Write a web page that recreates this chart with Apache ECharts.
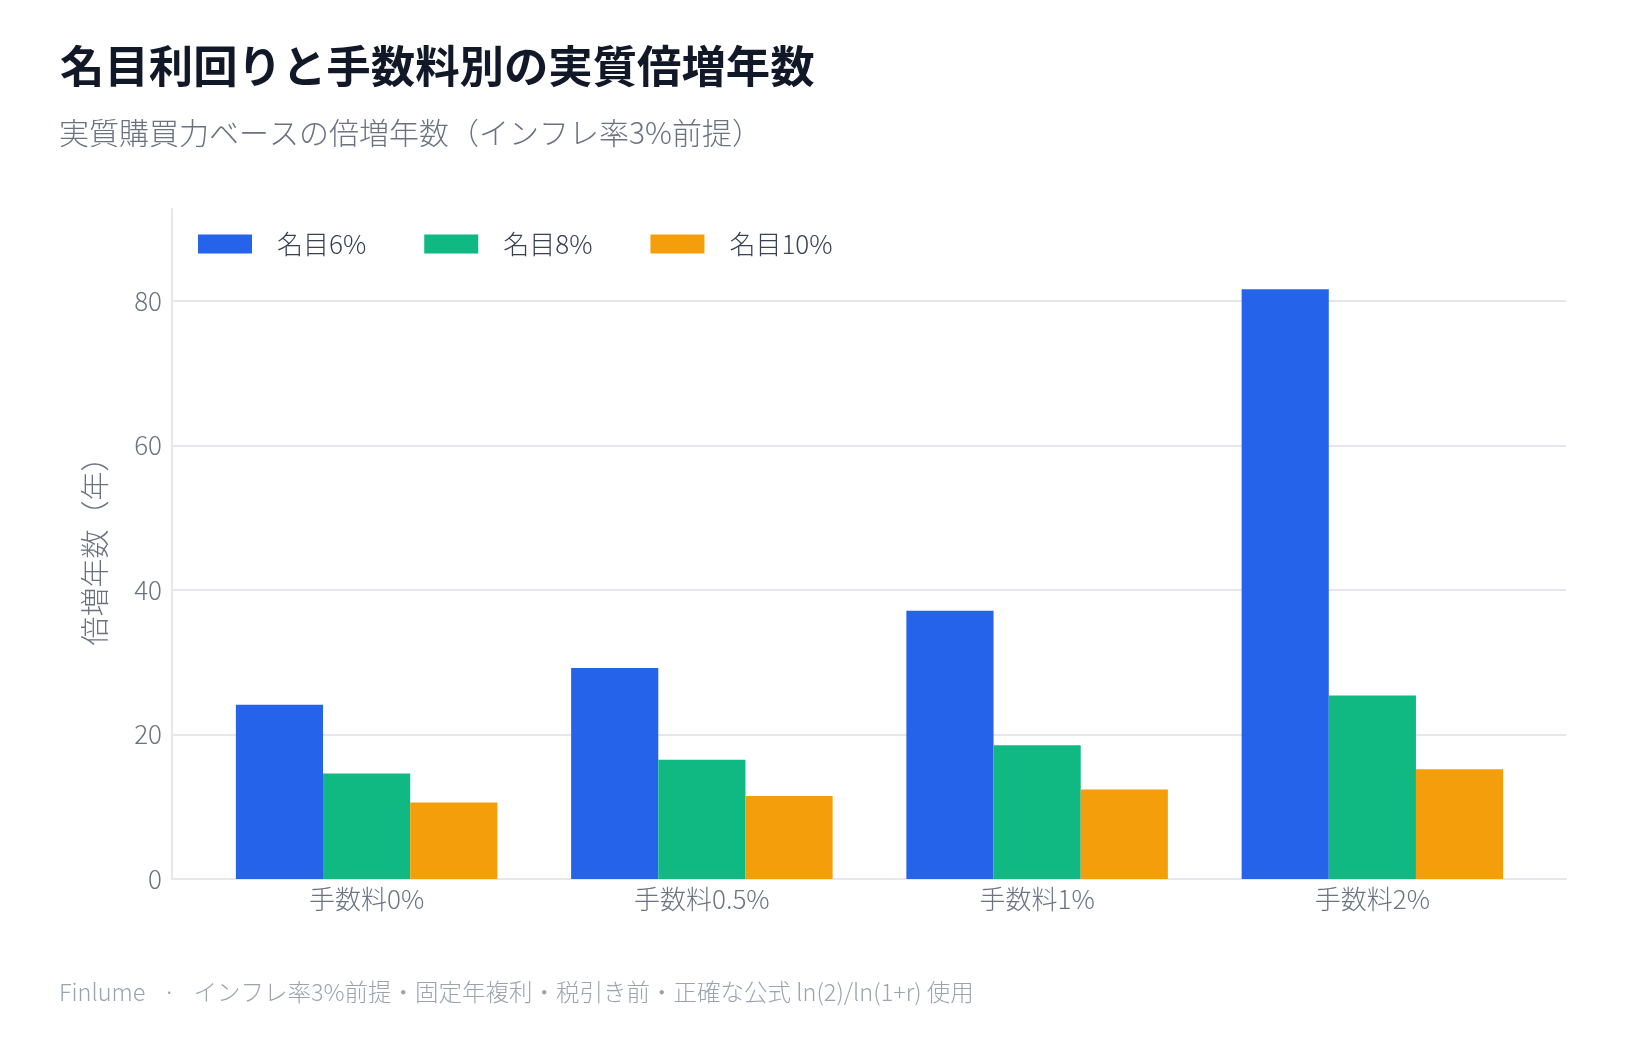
<!doctype html>
<html>
<head>
<meta charset="utf-8">
<title>名目利回りと手数料別の実質倍増年数</title>
<script src="https://cdn.jsdelivr.net/npm/echarts@6/dist/echarts.min.js"></script>
<style>
  html, body { margin: 0; padding: 0; background: #fff; }
  #main { width: 1639px; height: 1040px; }
</style>
</head>
<body>
<div id="main"></div>
<script>
// カテゴリ（手数料）
const categories = ['手数料0%', '手数料0.5%', '手数料1%', '手数料2%'];
// 系列名
const seriesNames = ['名目6%', '名目8%', '名目10%'];
// 実質倍増年数
const nominal6 = [24.1, 29.2, 37.1, 81.6];
const nominal8 = [14.6, 16.5, 18.5, 25.4];
const nominal10 = [10.6, 11.5, 12.4, 15.2];
// 目盛り
const yMin = 0;
const yMax = 92.7;
const yStep = 20;

const colors = ['#2563eb', '#10b981', '#f59e0b'];
const font = "'Noto Sans CJK JP', 'Noto Sans', sans-serif";
const gray = '#6b7280';

const chart = echarts.init(document.getElementById('main'), null, { renderer: 'canvas' });

// 棒は内側のグリッド（左右に余白あり）に描く
const mkSeries = (name, data, i) => ({
  name: name,
  type: 'bar',
  xAxisIndex: 1,
  yAxisIndex: 1,
  data: data,
  barGap: '0%',
  barCategoryGap: '22%',
  itemStyle: { color: colors[i] },
  emphasis: { disabled: true }
});

chart.setOption({
  animation: false,
  textStyle: { fontFamily: font },
  title: [
    {
      text: '名目利回りと手数料別の実質倍増年数',
      left: 55, top: 39,
      textStyle: { fontSize: 44.4, fontWeight: 'bold', color: '#111827', fontFamily: font }
    },
    {
      text: '実質購買力ベースの倍増年数（インフレ率3%前提）',
      left: 54, top: 113,
      textStyle: { fontSize: 30, fontWeight: 300, color: gray, fontFamily: font }
    },
    {
      text: 'Finlume\u2002\u2005·\u2002\u2005インフレ率3%前提・固定年複利・税引き前・正確な公式 ln(2)/ln(1+r) 使用',
      left: 54, top: 975,
      textStyle: { fontSize: 23.5, fontWeight: 300, color: '#9ca3af', fontFamily: font }
    }
  ],
  legend: {
    data: seriesNames,
    left: 193, top: 226,
    icon: 'rect',
    itemWidth: 54, itemHeight: 19,
    itemGap: 58,
    textStyle: { fontSize: 26, fontWeight: 300, color: '#374151', padding: [0, 0, 0, 20], fontFamily: font }
  },
  grid: [
    { left: 172, right: 73, top: 209, bottom: 161, containLabel: false },
    { left: 199, right: 99, top: 209, bottom: 161, containLabel: false }
  ],
  xAxis: [
    {
      type: 'category',
      gridIndex: 0,
      data: categories,
      axisLine: { show: true, lineStyle: { color: '#e5e7eb', width: 2 } },
      axisTick: { show: false },
      axisLabel: { show: false },
      splitLine: { show: false }
    },
    {
      type: 'category',
      gridIndex: 1,
      data: categories,
      axisLine: { show: false },
      axisTick: { show: false },
      axisLabel: { fontSize: 26, fontWeight: 300, color: gray, margin: 7, fontFamily: font }
    }
  ],
  yAxis: [
    {
      type: 'value',
      gridIndex: 0,
      min: yMin, max: yMax, interval: yStep,
      name: '倍増年数（年）',
      nameLocation: 'middle',
      nameGap: 63,
      nameRotate: 90,
      nameTextStyle: { fontSize: 29, fontWeight: 300, color: gray, fontFamily: font },
      axisLine: { show: true, lineStyle: { color: '#e5e7eb', width: 2 } },
      axisTick: { show: false },
      axisLabel: { fontSize: 26, fontWeight: 300, color: gray, margin: 10, showMaxLabel: false, fontFamily: font },
      splitLine: { show: true, showMaxLine: false, lineStyle: { color: '#e5e7eb', width: 2 } }
    },
    {
      type: 'value',
      gridIndex: 1,
      min: yMin, max: yMax, interval: yStep,
      axisLine: { show: false },
      axisTick: { show: false },
      axisLabel: { show: false },
      splitLine: { show: false }
    }
  ],
  series: [
    mkSeries(seriesNames[0], nominal6, 0),
    mkSeries(seriesNames[1], nominal8, 1),
    mkSeries(seriesNames[2], nominal10, 2)
  ]
});
</script>
</body>
</html>
